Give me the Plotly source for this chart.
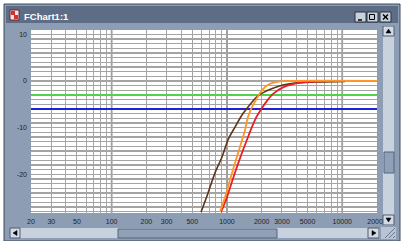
import plotly.graph_objects as go

# ---------------- data ----------------
X_LABELS = [20, 30, 50, 100, 200, 300, 500, 1000, 2000, 3000, 5000, 10000, 20000]
X_MINOR = [40, 60, 70, 80, 90, 400, 600, 700, 800, 900,
           4000, 6000, 7000, 8000, 9000]
DECADE_LINES = [100, 1000, 10000]
Y_LABELS = [-20, -10, 0, 10]

BROWN_F = [596, 686, 788, 906, 1022, 1174, 1350, 1524, 1682, 1858, 2100, 2508, 3060, 4045, 6412, 10560]
BROWN_DB = [-28.1, -24.0, -19.7, -16.3, -12.6, -9.9, -7.3, -5.6, -4.3, -3.2, -2.4, -1.6, -0.9, -0.43, -0.21, -0.1]

RED_F = [888, 1001, 1106, 1222, 1350, 1492, 1648, 1823, 2014, 2224, 2508, 3060, 4045, 5248, 7364, 10560]
RED_DB = [-28.1, -24.9, -21.6, -18.4, -15.4, -12.6, -9.86, -7.5, -5.79, -4.29, -2.79, -1.39, -0.5, -0.21, -0.06, 0]

ORANGE_F = [870, 962, 1063, 1174, 1298, 1435, 1524, 1648, 1786, 1936, 2138, 2410, 2884, 3522, 20000]
ORANGE_DB = [-28.1, -24.9, -21.2, -17.6, -14.1, -10.5, -7.7, -5.6, -4.1, -2.6, -1.3, -0.54, -0.1, 0, 0]

REF_F = [20, 20000]
GREEN_DB = [-3, -3]
BLUE_DB = [-6, -6]

# ---------------- geometry helpers ----------------
W, H = 408, 241
PL, PT, PR, PB = 31, 30, 377, 213
PW, PH = PR - PL, PB - PT


def px(x):
    return (x - PL) / PW


def py(y):
    return (PB - y) / PH


shapes = []


def rect(x0, y0, x1, y1, fill, line=None, lw=1, layer="below"):
    shapes.append(dict(type="rect", xref="paper", yref="paper",
                       x0=px(x0), x1=px(x1), y0=py(y1), y1=py(y0),
                       fillcolor=fill, layer=layer,
                       line=dict(color=line or fill, width=lw if line else 0)))


def path(points, fill=None, line="#000000", lw=1, layer="below", close=True):
    d = "M " + " L ".join(f"{px(a):.5f},{py(b):.5f}" for a, b in points)
    if close:
        d += " Z"
    shapes.append(dict(type="path", xref="paper", yref="paper", path=d,
                       fillcolor=fill if fill else "rgba(0,0,0,0)", layer=layer,
                       line=dict(color=line, width=lw)))


# window frame and client area
rect(4, 4, 400, 241, "#8d9db4", "#3e4a5c", 1)
rect(6, 6, 398, 23, "#5d6d85")
# plot area
rect(PL, PT, PR, PB, "#ffffff")
# title icon
rect(10, 10, 19, 20, "#f0e8e8", "#7a2020", 1)
rect(11, 11, 15, 15, "#d03030")
rect(14, 15, 18, 19, "#d03030")
# title bar buttons
for bx in (355, 367, 380):
    rect(bx, 12, bx + 11, 22, "#c9d1dc", "#2a3240", 1)
path([(358, 20), (362, 20)], line="#000000", lw=1.5, close=False)
path([(369.5, 14.5), (374.5, 14.5), (374.5, 19.5), (369.5, 19.5)], line="#000000", lw=1)
path([(383, 14.5), (388, 19.5)], line="#000000", lw=1.5, close=False)
path([(388, 14.5), (383, 19.5)], line="#000000", lw=1.5, close=False)

# vertical scrollbar
rect(383, 25, 394, 226, "#c8d2df")
rect(383, 26, 394, 36, "#d2dae5", "#4e5c70", 1, layer="above")
path([(386, 33), (391, 33), (388.5, 29)], fill="#000000", line="#000000", lw=0.5, layer="above")
rect(384, 152, 394, 173, "#90a1b7", "#55657b", 1)
rect(383, 215, 394, 225, "#d2dae5", "#4e5c70", 1, layer="above")
path([(386, 218), (391, 218), (388.5, 222)], fill="#000000", line="#000000", lw=0.5, layer="above")

# horizontal scrollbar
rect(10, 228, 380, 238, "#c8d2df")
rect(10, 228, 20, 238, "#d2dae5", "#4e5c70", 1)
path([(17, 230.5), (17, 235.5), (13, 233)], fill="#000000", line="#000000", lw=0.5)
rect(118, 229, 277, 238, "#90a1b7", "#55657b", 1)
rect(368, 228, 379, 238, "#d2dae5", "#4e5c70", 1)
path([(372, 230.5), (372, 235.5), (376, 233)], fill="#000000", line="#000000", lw=0.5)
# size grip
rect(381, 227, 396, 239, "#b8c4d3")
for k in (0, 4, 8):
    path([(385 + k, 238), (395, 228 + k)], line="#6a7890", lw=1, close=False)

# decade gridlines (slightly heavier)
for f in DECADE_LINES:
    shapes.append(dict(type="line", xref="x", yref="paper", x0=f, x1=f, y0=0, y1=1,
                       layer="below", line=dict(color="#7d7d7d", width=1.6)))

# ---------------- traces ----------------
fig = go.Figure()
fig.add_trace(go.Scatter(x=REF_F, y=GREEN_DB, mode="lines",
                         line=dict(color="#52d14a", width=2), hoverinfo="skip"))
fig.add_trace(go.Scatter(x=REF_F, y=BLUE_DB, mode="lines",
                         line=dict(color="#1c22d6", width=2), hoverinfo="skip"))
fig.add_trace(go.Scatter(x=BROWN_F, y=BROWN_DB, mode="lines",
                         line=dict(color="#5e3418", width=1.6, shape="spline", smoothing=0.8),
                         hoverinfo="skip"))
fig.add_trace(go.Scatter(x=RED_F, y=RED_DB, mode="lines",
                         line=dict(color="#e41f26", width=1.8, shape="spline", smoothing=0.8),
                         hoverinfo="skip"))
fig.add_trace(go.Scatter(x=ORANGE_F, y=ORANGE_DB, mode="lines",
                         line=dict(color="#ff9628", width=1.8, shape="spline", smoothing=0.8),
                         hoverinfo="skip"))

tick_font = dict(family="Liberation Sans, Arial, sans-serif", size=7, color="#1e1e1e")

fig.update_layout(
    width=W, height=H, autosize=False,
    margin=dict(l=PL, r=W - PR, t=PT, b=H - PB, pad=0),
    paper_bgcolor="#ffffff", plot_bgcolor="#ffffff",
    showlegend=False,
    shapes=shapes,
    annotations=[dict(xref="paper", yref="paper", x=px(22), y=py(16.5),
                      xanchor="left", yanchor="middle", showarrow=False,
                      text="<b>FChart1:1</b>",
                      font=dict(family="Liberation Sans, Arial, sans-serif", size=9.5, color="#ffffff"))],
    xaxis=dict(type="log", range=[1.30103, 4.30103],
               tickmode="array", tickvals=X_LABELS, ticktext=[str(v) for v in X_LABELS],
               showgrid=True, gridcolor="#a2a2a2", gridwidth=1,
               minor=dict(tickmode="array", tickvals=X_MINOR, showgrid=True,
                          gridcolor="#a8a8a8", gridwidth=1),
               zeroline=False, showline=False, ticks="", ticklabelstandoff=3,
               tickfont=tick_font, fixedrange=True),
    yaxis=dict(range=[-28.3, 10.9],
               tickmode="array", tickvals=Y_LABELS, ticktext=[str(v) for v in Y_LABELS],
               showgrid=True, gridcolor="#a4a4a4", gridwidth=1.3,
               minor=dict(dtick=1, showgrid=True, gridcolor="#a4a4a4", gridwidth=1.3),
               zeroline=False, showline=False, ticks="", ticklabelstandoff=3,
               tickfont=tick_font, fixedrange=True),
)

fig.write_html("out.html", config={"displayModeBar": False, "staticPlot": True})
